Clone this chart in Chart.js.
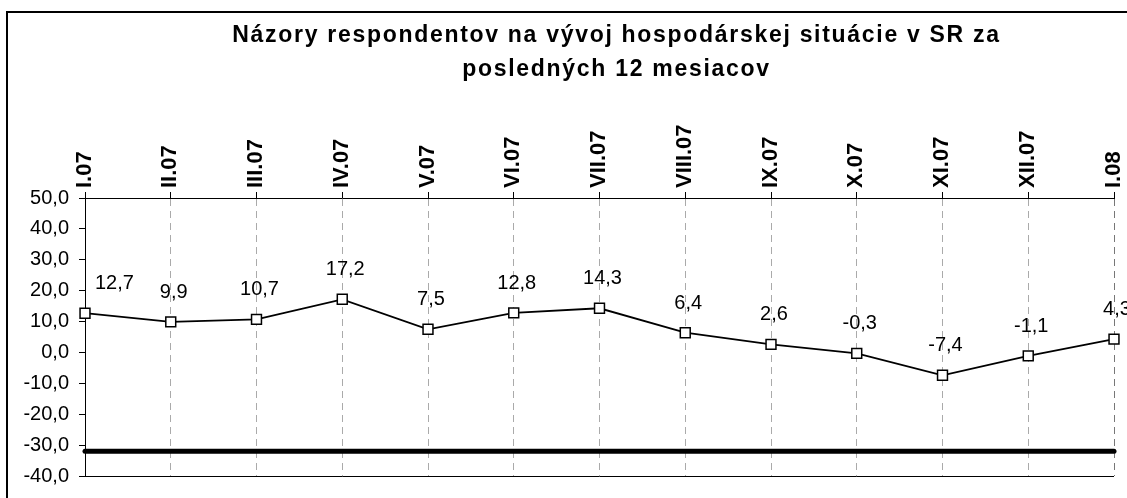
<!DOCTYPE html>
<html>
<head>
<meta charset="utf-8">
<script src="https://cdn.jsdelivr.net/npm/chart.js@4"></script>
<style>
    html, body { margin: 0; padding: 0; background: #fff; overflow: hidden; width: 1127px; height: 498px; }
    #frame { position: absolute; left: 6px; top: 11px; width: 1300px; height: 600px; border: 2px solid #000; box-sizing: border-box; }
    #chart { position: absolute; left: 0; top: 0; }
</style>
</head>
<body>
<div id="frame"></div>
<canvas id="chart" width="1231" height="498"></canvas>
<script>
// Data
const months = ['I.07', 'II.07', 'III.07', 'IV.07', 'V.07', 'VI.07', 'VII.07', 'VIII.07', 'IX.07', 'X.07', 'XI.07', 'XII.07', 'I.08'];
const balance = [12.7, 9.9, 10.7, 17.2, 7.5, 12.8, 14.3, 6.4, 2.6, -0.3, -7.4, -1.1, 4.3];
const floorLine = [-32, -32, -32, -32, -32, -32, -32, -32, -32, -32, -32, -32, -32];
const titleLines = ['Názory respondentov na vývoj hospodárskej situácie v SR za', 'posledných 12 mesiacov'];
const yTicks = { min: -40, max: 50, step: 10 };

const FONT = "'Liberation Sans', Arial, sans-serif";

function fmt(v) {
    return v.toFixed(1).replace('.', ',');
}

// Title drawn by hand so the two lines sit where the original has them
const titlePlugin = {
    id: 'titleText',
    afterDraw(chart) {
        const ctx = chart.ctx;
        ctx.save();
        ctx.font = 'bold 23px ' + FONT;
        ctx.letterSpacing = '1.7px';
        ctx.fillStyle = '#000';
        ctx.textAlign = 'center';
        ctx.textBaseline = 'alphabetic';
        titleLines.forEach((line, i) => {
            ctx.fillText(line, chart.width / 2 + 1, 41.5 + i * 34.5);
        });
        ctx.restore();
    }
};

// Value labels above the markers, plus the bottom edge of the plot area
const labelPlugin = {
    id: 'valueLabels',
    afterDatasetsDraw(chart) {
        const ctx = chart.ctx;
        const area = chart.chartArea;
        ctx.save();
        ctx.strokeStyle = '#000';
        ctx.lineWidth = 1;
        ctx.beginPath();
        ctx.moveTo(area.left, area.bottom + 0.5);
        ctx.lineTo(area.right, area.bottom + 0.5);
        ctx.stroke();

        ctx.font = '20px ' + FONT;
        ctx.fillStyle = '#000';
        ctx.textAlign = 'center';
        ctx.textBaseline = 'alphabetic';
        const meta = chart.getDatasetMeta(0);
        meta.data.forEach((pt, i) => {
            const text = fmt(balance[i]);
            const w = ctx.measureText(text).width;
            let x = pt.x + 3;
            if (x - w / 2 < area.left) {
                x = area.left + 10 + w / 2;
            }
            ctx.fillText(text, x, pt.y - 24);
        });
        ctx.restore();
    }
};

const ctx = document.getElementById('chart').getContext('2d');
new Chart(ctx, {
    type: 'line',
    data: {
        labels: months,
        datasets: [
            {
                label: 'Saldo',
                data: balance,
                borderColor: '#000',
                borderWidth: 1.8,
                backgroundColor: '#fff',
                pointStyle: 'rect',
                pointRadius: 7,
                pointBorderWidth: 1.5,
                pointBorderColor: '#000',
                pointBackgroundColor: '#fff',
                tension: 0,
                clip: false
            },
            {
                label: 'Hranica',
                data: floorLine,
                borderColor: '#000',
                borderWidth: 5,
                borderCapStyle: 'round',
                pointRadius: 0,
                tension: 0,
                clip: false
            }
        ]
    },
    options: {
        responsive: false,
        devicePixelRatio: 1,
        animation: false,
        layout: {
            padding: { left: 0, top: 0, right: 117, bottom: 20 }
        },
        plugins: {
            legend: { display: false },
            title: { display: false },
            tooltip: { enabled: false }
        },
        scales: {
            x: {
                position: 'top',
                offset: false,
                afterFit(scale) { scale.height = 198; },
                grid: {
                    color: (c) => c.index === months.length - 1 ? '#777' : '#aaa',
                    lineWidth: 1,
                    tickLength: 6,
                    tickColor: '#000'
                },
                border: { display: true, color: '#000', width: 1, dash: [7, 5] },
                ticks: {
                    autoSkip: false,
                    minRotation: 90,
                    maxRotation: 90,
                    padding: 4,
                    labelOffset: 26,
                    color: '#000',
                    font: { family: FONT, size: 22, weight: 'bold', lineHeight: 1.2 }
                }
            },
            y: {
                min: yTicks.min,
                max: yTicks.max,
                afterFit(scale) { scale.width = 85; },
                grid: {
                    drawOnChartArea: false,
                    tickLength: 6,
                    color: '#000',
                    tickColor: '#000'
                },
                border: { display: true, color: '#000', width: 1 },
                ticks: {
                    stepSize: yTicks.step,
                    padding: 10,
                    color: '#000',
                    font: { family: FONT, size: 20 },
                    callback: (v) => fmt(v)
                }
            }
        }
    },
    plugins: [titlePlugin, labelPlugin]
});
</script>
</body>
</html>
